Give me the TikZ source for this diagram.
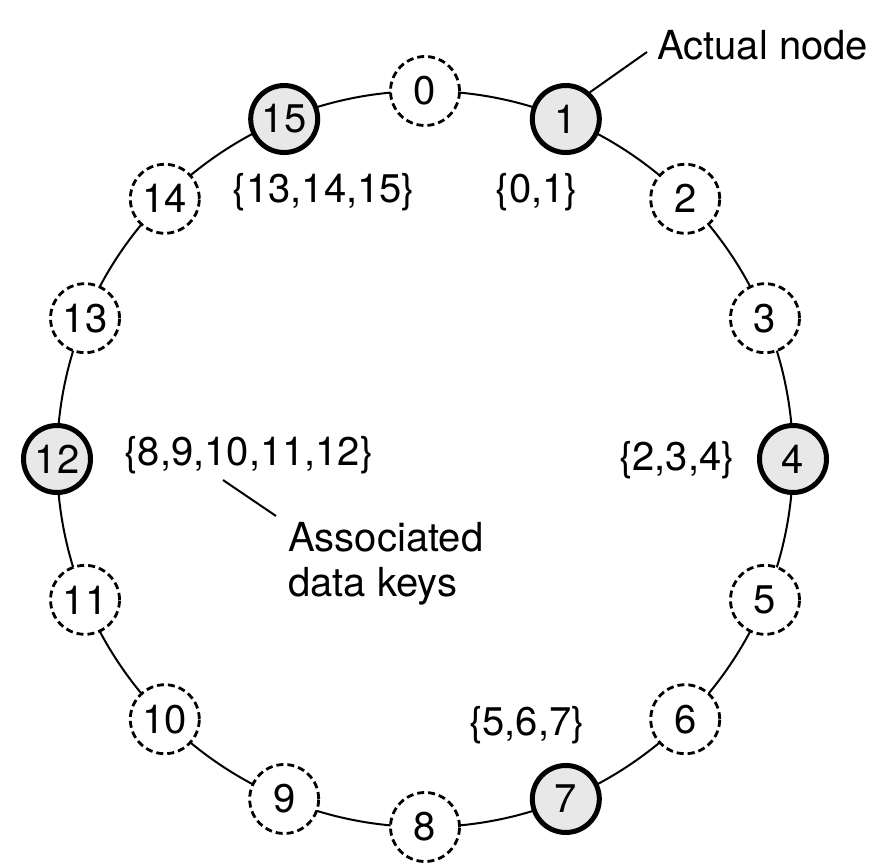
\documentclass[tikz,border=0pt]{standalone}
\usepackage{fontspec}
\setmainfont{TeX Gyre Heros}
\definecolor{nodegrey}{RGB}{232,232,232}
\begin{document}
\begin{tikzpicture}[x=1pt,y=-1pt,
  ring/.style={line width=2pt},
  leader/.style={line width=2pt},
  keynode/.style={circle, draw, inner sep=0pt, font=\fontsize{40}{45}\selectfont},
  actual/.style={keynode, line width=5pt, fill=nodegrey, minimum size=67pt},
  virtual/.style={keynode, dash pattern=on 7pt off 4pt, line width=2.8pt, fill=white, minimum size=69pt},
  lbl/.style={font=\fontsize{40}{45}\selectfont, inner sep=2pt}]
\useasboundingbox (0,0) rectangle (888,866);
\coordinate (c) at (425,459);
\draw[ring] (c) circle[radius=368];
\foreach \i/\s in {0/virtual,1/actual,2/virtual,3/virtual,4/actual,5/virtual,6/virtual,7/actual,
                   8/virtual,9/virtual,10/virtual,11/virtual,12/actual,13/virtual,14/virtual,15/actual}
  \node[\s] (n\i) at ({425+368*sin(22.5*\i)},{459-368*cos(22.5*\i)}) {\i};
\node[lbl] (k15) at (324,192) {\{13,14,15\}};
\node[lbl] (k1) at (537,192) {\{0,1\}};
\node[lbl] (k12) at (249,455) {\{8,9,10,11,12\}};
\node[lbl] (k4) at (677,460) {\{2,3,4\}};
\node[lbl] (k7) at (527,725) {\{5,6,7\}};
\node[lbl, anchor=west] (an) at (655,45) {Actual node};
\node[lbl, anchor=north west, align=left, inner sep=0pt] (as) at (288,522) {Associated\\data keys};
\draw[leader] (n1.48) -- ([xshift=-8pt,yshift=-7pt]an.west);
\draw[leader] ([xshift=-26pt,yshift=-4pt]k12.south) -- ([xshift=-12pt,yshift=6pt]as.north west);
\end{tikzpicture}
\end{document}
